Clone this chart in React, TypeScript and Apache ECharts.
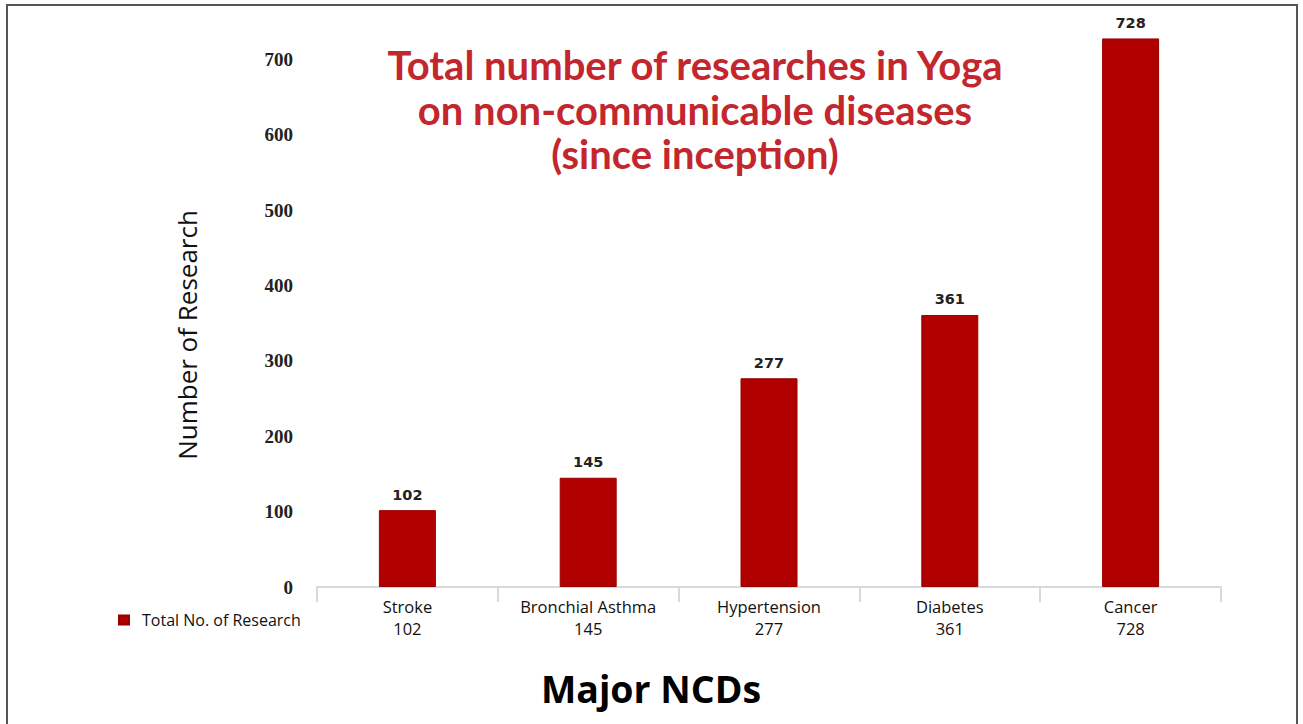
import React, { useEffect, useRef } from "react";
import * as echarts from "echarts";

const categories = ["Stroke", "Bronchial Asthma", "Hypertension", "Diabetes", "Cancer"];
const values = [102, 145, 277, 361, 728];
const titleLines = [
  "Total number of researches in Yoga",
  "on non-communicable diseases",
  "(since inception)",
];
const seriesName = "Total No. of Research";
const xAxisTitle = "Major NCDs";
const yAxisTitle = "Number of Research";

export default function App() {
  const ref = useRef<HTMLDivElement>(null);
  useEffect(() => {
    document.body.style.margin = "0";
    const chart = echarts.init(ref.current!, null, { renderer: "svg" });
    chart.setOption({
      animation: false,
      backgroundColor: "#ffffff",
      title: {
        text: titleLines.join("\n"),
        left: 690,
        top: 38,
        textAlign: "center",
        textStyle: {
          fontFamily: "Lato",
          fontWeight: "bold",
          fontSize: 40,
          lineHeight: 44.5,
          color: "#c4262e",
        },
      },
      legend: {
        left: 113,
        top: 607,
        itemWidth: 10,
        itemHeight: 9,
        icon: "rect",
        data: [seriesName],
        textStyle: { fontFamily: "Open Sans", fontSize: 16, color: "#111", padding: [0, 0, 0, 8] },
      },
      grid: { left: 317, right: 82, top: 0, height: 587, containLabel: false },
      xAxis: {
        type: "category",
        data: categories,
        axisLine: { lineStyle: { color: "#d9d9d9", width: 2 } },
        axisTick: { show: true, length: 15, lineStyle: { color: "#d9d9d9", width: 2 } },
        axisLabel: {
          margin: 8,
          fontFamily: "Open Sans",
          fontSize: 16.5,
          lineHeight: 22,
          color: "#111",
          formatter: (v: string, i: number) => v + "\n" + values[i],
        },
      },
      yAxis: {
        type: "value",
        min: 0,
        max: 779,
        interval: 100,
        splitLine: { show: false },
        axisLine: { show: false },
        axisTick: { show: false },
        axisLabel: {
          margin: 24,
          fontFamily: "Liberation Serif",
          fontWeight: "bold",
          fontSize: 19,
          color: "#222",
          showMaxLabel: false,
        },
      },
      series: [
        {
          name: seriesName,
          type: "bar",
          data: values,
          barWidth: 57,
          itemStyle: { color: "#b00000", borderColor: "#9a0000", borderWidth: 1 },
          label: {
            show: true,
            position: "top",
            distance: 8,
            fontFamily: "DejaVu Sans",
            fontWeight: "bold",
            fontSize: 14.5,
            color: "#222",
          },
        },
      ],
      graphic: [
        {
          type: "polyline",
          shape: { points: [[7, 730], [7, 5], [1297, 5], [1297, 730]] },
          style: { stroke: "#555", lineWidth: 2, fill: "none" },
          silent: true,
        },
        {
          type: "text",
          x: 651,
          y: 688,
          style: {
            text: xAxisTitle,
            fontFamily: "Open Sans",
            fontWeight: "bold",
            fontSize: 37.5,
            fill: "#000",
            align: "center",
            verticalAlign: "middle",
          },
          silent: true,
        },
        {
          type: "text",
          x: 187,
          y: 335,
          rotation: Math.PI / 2,
          style: {
            text: yAxisTitle,
            fontFamily: "Open Sans",
            fontSize: 26,
            fill: "#111",
            align: "center",
            verticalAlign: "middle",
          },
          silent: true,
        },
      ],
    });
    return () => chart.dispose();
  }, []);
  return <div ref={ref} style={{ position: "absolute", left: 0, top: 0, width: 1303, height: 724 }} />;
}
